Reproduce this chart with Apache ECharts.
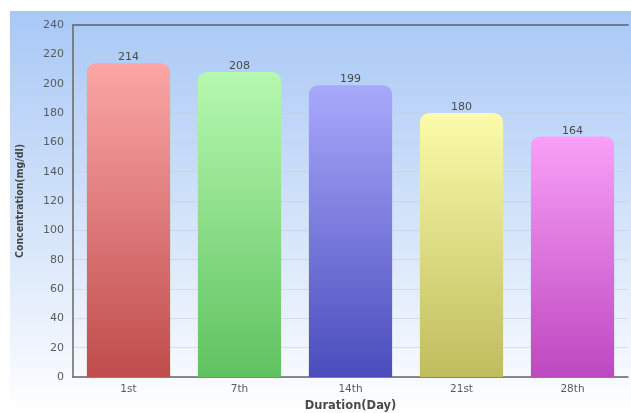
<!DOCTYPE html>
<html>
<head>
<meta charset="utf-8">
<script src="https://cdn.jsdelivr.net/npm/echarts@6/dist/echarts.min.js"></script>
<style>
  html, body { margin: 0; padding: 0; background: #ffffff; }
  #chart { width: 631px; height: 413px; }
</style>
</head>
<body>
<div id="chart"></div>
<script>
// Cholesterol concentration over the course of the study
const durations = ['1st', '7th', '14th', '21st', '28th'];
const concentrations = [214, 208, 199, 180, 164];
const yTicks = { min: 0, max: 240, interval: 20 };

// top colour / bottom colour for each bar
const barTops = ['#fba6a6', '#b6f9b0', '#a9a9fb', '#fbfba9', '#f9a0f7'];
const barBottoms = ['#c04c4c', '#60c260', '#4a4cbc', '#c0bd5e', '#bd48c0'];

const chart = echarts.init(document.getElementById('chart'));

const barData = concentrations.map((v, i) => ({
  value: v,
  itemStyle: {
    color: new echarts.graphic.LinearGradient(0, 0, 0, 1, [
      { offset: 0, color: barTops[i] },
      { offset: 1, color: barBottoms[i] }
    ])
  }
}));

const numFont = { fontFamily: 'DejaVu Sans', fontSize: 11, color: '#5a5a5a' };

chart.setOption({
  animation: false,
  graphic: [{
    type: 'rect',
    z: -10,
    shape: { x: 10, y: 11, width: 621, height: 402 },
    style: {
      fill: new echarts.graphic.LinearGradient(0, 0, 0, 1, [
        { offset: 0, color: '#a8c8f6' },
        { offset: 0.55, color: '#d6e5fa' },
        { offset: 1, color: '#ffffff' }
      ])
    }
  }],
  grid: { left: 73, right: 3, top: 25, bottom: 36, outerBoundsMode: 'none' },
  xAxis: [{
    type: 'category',
    data: durations,
    name: 'Duration(Day)',
    nameLocation: 'middle',
    nameGap: 23,
    nameTextStyle: { fontFamily: 'DejaVu Sans', fontWeight: 'bold', fontSize: 11.5, color: '#4a4a4a' },
    axisLine: { lineStyle: { color: '#666', width: 1.5 } },
    axisTick: { show: false },
    axisLabel: { margin: 7, fontFamily: 'DejaVu Sans', fontSize: 10.5, color: '#5a5a5a' }
  }, {
    type: 'category',
    position: 'top',
    data: durations,
    axisLine: { lineStyle: { color: '#6a7a90', width: 2 } },
    axisTick: { show: false },
    axisLabel: { show: false }
  }],
  yAxis: {
    type: 'value',
    min: yTicks.min,
    max: yTicks.max,
    interval: yTicks.interval,
    name: 'Concentration(mg/dl)',
    nameLocation: 'middle',
    nameGap: 47,
    nameTextStyle: { fontFamily: 'DejaVu Sans Condensed', fontWeight: 'bold', fontSize: 10.5, color: '#444' },
    axisLine: { show: true, lineStyle: { color: '#666', width: 1.5 } },
    axisTick: { show: false },
    axisLabel: Object.assign({ margin: 9 }, numFont),
    splitLine: { lineStyle: { color: 'rgba(200,205,215,0.6)', width: 1 } }
  },
  series: [{
    type: 'bar',
    data: barData,
    barWidth: '75%',
    itemStyle: { borderRadius: [9, 9, 0, 0] },
    label: Object.assign({ show: true, position: 'top', distance: 0 }, numFont, { color: '#4a4a4a' })
  }]
});
</script>
</body>
</html>
